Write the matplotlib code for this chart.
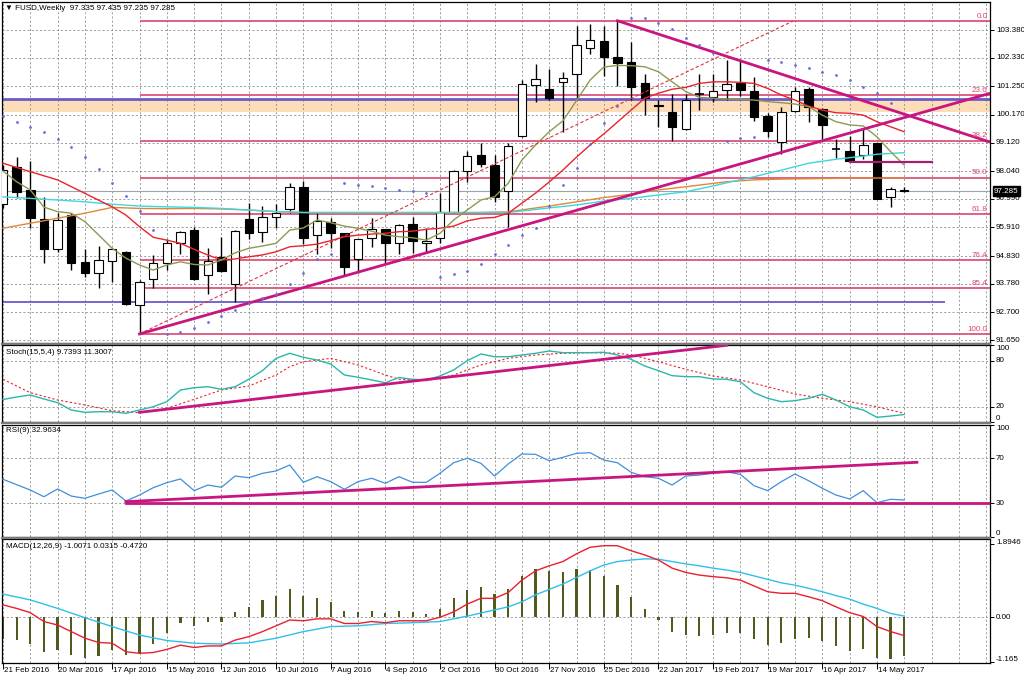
import matplotlib
matplotlib.use("Agg")
import matplotlib.pyplot as plt
import matplotlib.transforms as mtransforms
from matplotlib.patches import Rectangle
from matplotlib.lines import Line2D

plt.rcParams["font.family"] = ["Liberation Sans", "DejaVu Sans"]
FS = 5.8

# ---------------- DATA (weekly bars, index 0 = 21 Feb 2016) ----------------
opens = [96.80, 98.21, 97.33, 96.22, 95.08, 96.38, 94.59, 94.17, 94.65, 94.99,
         92.98, 93.95, 94.55, 95.31, 95.81, 94.11, 94.80, 93.77, 96.22, 95.75,
         96.32, 96.60, 97.43, 95.62, 96.10, 95.69, 94.70, 95.50, 95.84, 95.33,
         96.04, 95.31, 95.50, 96.48, 98.06, 98.65, 98.27, 97.30, 99.37, 101.30,
         101.14, 101.40, 101.72, 102.69, 102.96, 102.37, 102.18, 101.36, 100.55, 100.27,
         99.62, 100.93, 100.83, 101.11, 101.36, 101.08, 100.13, 99.13, 100.32, 101.14,
         100.38, 98.88, 98.81, 98.65, 99.09, 97.05, 97.335]
highs = [98.27, 98.57, 98.42, 97.07, 96.46, 96.47, 95.09, 95.21, 95.12, 95.03,
         93.92, 94.87, 95.46, 95.78, 95.91, 95.12, 95.54, 95.82, 96.85, 96.72,
         96.80, 97.58, 97.67, 96.45, 96.26, 95.71, 95.49, 96.26, 95.87, 96.04,
         96.29, 95.88, 97.23, 98.10, 98.81, 99.09, 98.65, 99.09, 101.49, 102.09,
         101.89, 101.80, 103.53, 103.61, 103.53, 103.73, 102.94, 101.72, 100.73, 100.95,
         100.95, 101.72, 101.72, 102.25, 102.25, 101.61, 100.25, 100.48, 101.21, 101.24,
         100.42, 99.25, 99.37, 99.62, 99.12, 97.45, 97.435]
lows = [96.65, 97.03, 95.90, 94.58, 94.99, 94.30, 94.05, 93.61, 93.86, 92.99,
        91.87, 93.63, 94.30, 94.90, 93.92, 93.38, 94.24, 93.10, 95.46, 95.37,
        95.88, 96.45, 95.28, 94.90, 95.12, 94.11, 94.17, 95.16, 94.55, 94.90,
        94.93, 94.99, 95.31, 96.45, 97.64, 98.21, 96.88, 95.91, 99.35, 100.67,
        100.73, 99.53, 100.76, 102.47, 101.64, 101.26, 100.73, 100.16, 99.72, 99.18,
        99.60, 100.35, 100.67, 100.73, 100.88, 99.95, 99.32, 98.69, 100.29, 99.91,
        99.25, 98.53, 98.40, 98.49, 96.97, 96.67, 97.235]
closes = [98.08, 97.26, 96.28, 95.11, 96.19, 94.58, 94.20, 94.68, 95.08, 93.01,
          93.86, 94.55, 95.33, 95.75, 93.95, 94.65, 94.26, 95.79, 95.71, 96.29,
          96.45, 97.43, 95.50, 96.17, 95.69, 94.42, 95.46, 95.84, 95.33, 95.99,
          95.41, 95.41, 96.51, 98.06, 98.61, 98.31, 97.07, 99.00, 101.33, 101.53,
          100.82, 101.58, 102.81, 103.00, 102.35, 102.14, 101.21, 100.80, 100.50, 99.72,
          100.73, 100.95, 101.08, 101.34, 101.11, 100.10, 99.57, 100.29, 101.08, 100.48,
          99.79, 98.86, 98.42, 99.03, 96.99, 97.35, 97.285]

ma_fast = [98.05, 97.64, 97.33, 96.68, 96.51, 96.45, 96.13, 95.63, 95.12, 94.75,
           94.49, 94.30, 94.49, 94.61, 94.51, 94.49, 94.68, 94.95, 95.12, 95.21,
           95.31, 95.81, 95.89, 96.19, 96.09, 95.96, 95.88, 95.77, 95.62, 95.56,
           95.52, 95.43, 95.69, 96.19, 96.57, 96.95, 97.07, 97.58, 98.46, 99.03,
           99.53, 99.94, 100.71, 101.49, 101.98, 102.04, 102.03, 101.99, 101.80, 101.42,
           101.05, 100.83, 100.80, 100.77, 100.76, 100.73, 100.67, 100.63, 100.58, 100.48,
           100.16, 99.91, 99.79, 99.75, 99.34, 98.78, 98.27]
ma_mid_idx = [0, 2, 4, 6, 8] + list(range(9, 67))
ma_mid = [98.34, 98.02, 97.71, 97.20, 96.69, 96.38, 95.94, 95.54, 95.43, 95.31,
          95.08, 94.87, 94.68, 94.72, 94.80, 94.87, 94.99, 95.18, 95.22, 95.28,
          95.41, 95.56, 95.62, 95.66, 95.69, 95.75, 95.77, 95.84, 95.88, 95.96,
          96.16, 96.26, 96.29, 96.45, 96.83, 97.21, 97.63, 98.08, 98.57, 99.03,
          99.45, 99.90, 100.35, 100.80, 100.99, 101.14, 101.21, 101.36, 101.42, 101.42,
          101.40, 101.36, 101.17, 100.92, 100.73, 100.50, 100.35, 100.25, 100.23, 100.16,
          99.91, 99.72, 99.53]
ma_slow_idx = [0, 2, 4, 6, 8, 10, 12, 14, 16, 18, 20, 22, 26, 30, 34, 37, 38, 40, 42, 44,
               46, 48, 50, 52, 53, 55, 57, 59, 61, 63, 64, 66]
ma_slow = [97.07, 97.01, 96.95, 96.88, 96.79, 96.72, 96.69, 96.67, 96.63, 96.57,
           96.51, 96.48, 96.48, 96.48, 96.48, 96.48, 96.53, 96.65, 96.76, 96.91,
           97.01, 97.14, 97.26, 97.48, 97.60, 97.83, 98.08, 98.34, 98.49, 98.61,
           98.68, 98.74]
ma_long_idx = [0, 2, 4, 6, 8, 10, 12, 14, 16, 18, 20, 22, 26, 30, 34, 37, 40, 44, 46, 48,
               50, 53, 55, 57, 60, 63, 66]
ma_long = [95.88, 96.07, 96.26, 96.45, 96.67, 96.63, 96.62, 96.63, 96.61, 96.57,
           96.51, 96.47, 96.46, 96.46, 96.46, 96.50, 96.72, 97.04, 97.17, 97.33,
           97.45, 97.64, 97.71, 97.74, 97.76, 97.78, 97.78]

sar = [100.13, 99.91, 99.72, 99.53, 99.24, 98.94, 98.59, 98.11, 97.60, 97.11,
       96.54, 95.81, 91.88, 91.97, 92.09, 92.34, 92.56, 92.79, 93.04, 93.24,
       93.39, 93.77, 94.20, 94.70, 94.90, 97.60, 97.52, 97.48, 97.39, 97.33,
       97.29, 97.20, 94.05, 94.14, 94.27, 94.53, 94.90, 95.25, 95.62, 95.88,
       96.72, 97.52, 98.15, 99.06, 99.85, 100.50, 103.82, 103.82, 103.66, 103.42,
       103.09, 102.81, 102.50, 99.18, 99.28, 99.34, 102.25, 102.18, 102.06, 101.93,
       101.80, 101.68, 101.49, 101.23, 100.99, 100.61]

fib_labels = ["0.0", "23.6", "38.2", "50.0", "61.8", "76.4", "85.4", "100.0"]
fib_prices = [103.73, 100.93, 99.20, 97.80, 96.41, 94.68, 93.61, 91.88]
fib_start = 10

price_ticks = [103.380, 102.330, 101.250, 100.170, 99.120, 98.040,
               96.990, 95.910, 94.830, 93.780, 92.700, 91.650]
last_price = 97.285

zone_low, zone_high = 100.28, 100.77
hline_blue_low = 93.10
hline_short = 98.40

# trendlines as (bar index, value) pairs
trend_up = ([10, 72.28], [91.88, 100.985])
trend_down = ([45, 72.28], [103.73, 99.14])
trend_dashed = ([10, 57.85], [91.88, 103.72])
trend_short = ([62, 68], [hline_short, hline_short])
stoch_trend = ([10, 53], [12.6, 100.0])
rsi_trend = ([9, 66.93], [31.4, 66.4])
rsi_level = ([9, 72.28], [30, 30])

stoch_main = [29.3, 32.6, 35.2, 30.0, 25.2, 15.6, 12.6, 13.4, 13.4, 11.3,
              15.6, 19.9, 26.5, 41.7, 44.7, 46.0, 42.6, 46.0, 55.7, 66.9,
              83.0, 89.6, 84.4, 80.8, 75.6, 61.3, 58.3, 54.8, 51.2, 58.0,
              55.7, 54.8, 60.0, 67.8, 80.0, 88.7, 85.1, 85.1, 87.4, 89.6,
              92.6, 90.4, 90.4, 90.4, 90.9, 87.4, 81.7, 73.0, 66.9, 60.4,
              59.1, 59.1, 56.1, 55.7, 52.5, 38.2, 30.9, 26.5, 27.8, 30.9,
              36.1, 28.7, 19.9, 15.6, 6.1, 7.8, 9.74]
stoch_sig_idx = [0, 2, 4, 6, 8, 10, 12, 14, 16, 18, 20, 21, 22, 24, 26, 28, 29, 31, 33, 35,
                 37, 39, 41, 43, 45, 46, 48, 50, 52, 54, 56, 58, 60, 62, 64, 66]
stoch_sig = [55.7, 38.2, 28.7, 22.2, 14.7, 12.1, 17.9, 29.6, 41.7, 46.9,
             61.3, 72.1, 78.6, 83.0, 74.3, 61.3, 55.7, 53.8, 61.3, 74.3,
             83.0, 87.4, 89.6, 90.4, 89.6, 87.4, 78.6, 68.7, 60.0, 54.8,
             46.0, 36.5, 30.9, 26.5, 19.9, 11.3]

rsi = [51.3, 46.5, 41.8, 35.8, 42.7, 36.4, 34.4, 38.2, 41.8, 32.0,
       37.3, 43.8, 48.3, 51.6, 41.2, 46.2, 44.2, 54.2, 52.7, 56.6,
       58.7, 64.0, 48.6, 53.6, 49.2, 42.4, 49.2, 52.2, 47.7, 53.6,
       48.6, 48.6, 56.6, 66.0, 70.0, 65.5, 54.2, 64.9, 73.8, 73.5,
       67.8, 70.8, 74.4, 74.9, 68.4, 66.0, 57.5, 53.6, 52.2, 46.2,
       54.2, 55.1, 56.6, 58.0, 55.7, 45.6, 41.2, 49.2, 56.0, 50.0,
       43.3, 37.3, 33.8, 41.2, 30.5, 33.5, 32.96]

macd_main = [0.32, 0.23, 0.12, -0.11, -0.20, -0.37, -0.54, -0.65, -0.67, -0.89,
             -0.93, -0.91, -0.83, -0.72, -0.78, -0.74, -0.74, -0.59, -0.50, -0.37,
             -0.22, -0.07, -0.09, -0.04, -0.04, -0.16, -0.16, -0.11, -0.14, -0.09,
             -0.09, -0.09, 0.00, 0.14, 0.34, 0.49, 0.49, 0.64, 0.96, 1.20,
             1.33, 1.44, 1.64, 1.81, 1.85, 1.85, 1.72, 1.61, 1.48, 1.27,
             1.16, 1.09, 1.05, 1.02, 0.96, 0.81, 0.66, 0.62, 0.62, 0.53,
             0.43, 0.27, 0.12, 0.02, -0.24, -0.37, -0.472]
macd_sig_idx = list(range(0, 37, 2)) + list(range(37, 67))
macd_sig = [0.60, 0.45, 0.23, -0.01, -0.24, -0.46, -0.60, -0.67, -0.69, -0.66,
            -0.54, -0.37, -0.24, -0.22, -0.16, -0.14, -0.11, 0.03, 0.19,
            0.27, 0.40, 0.58, 0.72, 0.86, 1.03, 1.20, 1.35, 1.44, 1.48,
            1.51, 1.50, 1.44, 1.38, 1.33, 1.27, 1.22, 1.16, 1.07, 0.98,
            0.89, 0.83, 0.75, 0.66, 0.56, 0.47, 0.34, 0.23, 0.10, 0.0315]
macd_hist = [-0.57, -0.59, -0.69, -0.89, -0.84, -0.97, -1.06, -1.00, -0.84, -0.97,
             -0.93, -0.69, -0.41, -0.14, -0.22, -0.11, -0.13, 0.14, 0.27, 0.45,
             0.55, 0.72, 0.55, 0.51, 0.40, 0.17, 0.14, 0.17, 0.12, 0.16,
             0.13, 0.08, 0.21, 0.49, 0.71, 0.78, 0.59, 0.73, 1.07, 1.24,
             1.20, 1.16, 1.25, 1.22, 1.07, 0.83, 0.53, 0.21, -0.07, -0.39,
             -0.46, -0.48, -0.46, -0.41, -0.41, -0.57, -0.72, -0.67, -0.57, -0.54,
             -0.60, -0.74, -0.86, -0.83, -1.06, -1.09, -1.0071]

date_labels = ["21 Feb 2016", "20 Mar 2016", "17 Apr 2016", "15 May 2016", "12 Jun 2016",
               "10 Jul 2016", "7 Aug 2016", "4 Sep 2016", "2 Oct 2016", "30 Oct 2016",
               "27 Nov 2016", "25 Dec 2016", "22 Jan 2017", "19 Feb 2017", "19 Mar 2017",
               "16 Apr 2017", "14 May 2017"]
date_idx = list(range(0, 65, 4))

# ---------------- STYLE ----------------
GRID = "#8e8e8e"
FIB = "#dc4670"
TREND = "#c8157f"
W, H = 1024, 683
XMIN, XMAX = -0.07, 72.28

fig = plt.figure(figsize=(W / 100, H / 100), dpi=100)


def panel(top, bottom):
    ax = fig.add_axes([2 / W, 1 - bottom / H, 988 / W, (bottom - top) / H])
    ax.set_xlim(XMIN, XMAX)
    ax.set_xticks([])
    ax.yaxis.tick_right()
    ax.tick_params(axis="y", length=3, width=0.7, labelright=False,
                   left=False, right=True)
    for s in ax.spines.values():
        s.set_color("black")
        s.set_linewidth(0.9)
    for i in range(0, 73, 2):
        ax.axvline(i, color=GRID, lw=0.6, ls=(0, (2.5, 2.5)), zorder=1)
    return ax


def right_labels(ax, vals, texts, vas):
    tr = ax.get_yaxis_transform()
    for v, t, va in zip(vals, texts, vas):
        ax.text(1.006, v, t, transform=tr, ha="left", va=va,
                fontsize=FS, clip_on=False)


ax = panel(2, 343.5)
ax_st = panel(345, 422)
ax_rsi = panel(424.5, 537)
ax_macd = panel(539, 663)

# ---------------- MAIN PRICE PANEL ----------------
ax.set_ylim(91.52, 104.44)
ax.set_yticks(price_ticks)
for p in price_ticks:
    ax.axhline(p, color=GRID, lw=0.6, ls=(0, (2.5, 2.5)), zorder=1)
right_labels(ax, price_ticks, [f"{p:.3f}" for p in price_ticks],
             ["center"] * len(price_ticks))

ax.axhspan(zone_low, zone_high, color="#fddcb8", lw=0, zorder=0)
ax.axhline(zone_high, color="#6a5acd", lw=2, zorder=2)
ax.hlines(hline_blue_low, XMIN, 69, color="#6a5acd", lw=1.3, zorder=2)
ax.axhline(last_price, color="#9aa4ae", lw=0.8, zorder=2)

for p, lab in zip(fib_prices, fib_labels):
    ax.hlines(p, fib_start, XMAX, color=FIB, lw=1.2, zorder=2)
    ax.text(72.1, p + 0.04, lab, ha="right", va="bottom", color=FIB,
            fontsize=FS, zorder=6)

for i in range(len(opens)):
    o, h, l, c = opens[i], highs[i], lows[i], closes[i]
    ax.vlines(i, l, h, color="black", lw=1, zorder=3)
    if abs(c - o) < 0.04:
        ax.hlines(c, i - 0.32, i + 0.32, color="black", lw=1.2, zorder=3)
    else:
        ax.add_patch(Rectangle((i - 0.31, min(o, c)), 0.62, abs(c - o),
                               facecolor="black" if c < o else "white",
                               edgecolor="black", lw=0.8, zorder=3))

ax.plot(ma_long_idx, ma_long, color="#e0873a", lw=1, zorder=4)
ax.plot(ma_slow_idx, ma_slow, color="#3fd6dc", lw=1, zorder=4)
ax.plot(ma_mid_idx, ma_mid, color="#e8242c", lw=1, zorder=4)
ax.plot(range(len(ma_fast)), ma_fast, color="#8c9a52", lw=1, zorder=4)

ax.plot(*trend_dashed, color="#e0303a", lw=0.8, ls=(0, (3, 2)), zorder=5)
ax.plot(*trend_up, color=TREND, lw=2, zorder=5)
ax.plot(*trend_down, color=TREND, lw=2, zorder=5)
ax.plot(*trend_short, color="#a41f6e", lw=1.6, zorder=5)

ax.scatter(range(len(sar)), sar, s=4, color="#6b6bdc", lw=0, zorder=6)

tr = ax.get_yaxis_transform()
ax.text(1.004, last_price, f"{last_price:.3f}", transform=tr, ha="left",
        va="center", fontsize=FS, color="white", clip_on=False, zorder=10,
        bbox=dict(boxstyle="square,pad=0.18", fc="black", ec="black"))

fig.text(5 / W, 1 - 8 / H, "\u25bc FUSD,Weekly  97.335 97.435 97.235 97.285",
         fontsize=FS, va="center", ha="left")

# ---------------- STOCHASTIC ----------------
ax_st.set_ylim(0, 100.4)
ax_st.set_yticks([100, 80, 20, 0])
for v in (20, 80):
    ax_st.axhline(v, color=GRID, lw=0.6, ls=(0, (2.5, 2.5)), zorder=1)
right_labels(ax_st, [100, 80, 20, 0], ["100", "80", "20", "0"],
             ["top", "center", "center", "bottom"])
ax_st.plot(stoch_sig_idx, stoch_sig, color="#e8242c", lw=0.8,
           ls=(0, (2, 2)), zorder=3)
ax_st.plot(range(len(stoch_main)), stoch_main, color="#2ab7a9", lw=1, zorder=3)
ax_st.plot(*stoch_trend, color=TREND, lw=2, zorder=4, clip_on=True)
fig.text(6 / W, 1 - 352 / H, "Stoch(15,5,4) 9.7393 11.3007", fontsize=FS,
         va="center", ha="left")

# ---------------- RSI ----------------
ax_rsi.set_ylim(0, 100)
ax_rsi.set_yticks([100, 70, 30, 0])
for v in (30, 70):
    ax_rsi.axhline(v, color=GRID, lw=0.6, ls=(0, (2.5, 2.5)), zorder=1)
right_labels(ax_rsi, [100, 70, 30, 0], ["100", "70", "30", "0"],
             ["top", "center", "center", "bottom"])
ax_rsi.plot(range(len(rsi)), rsi, color="#3f8fdc", lw=0.9, zorder=3)
ax_rsi.plot(*rsi_trend, color=TREND, lw=2, zorder=4)
ax_rsi.plot(*rsi_level, color=TREND, lw=2, zorder=4)
fig.text(6 / W, 1 - 431 / H, "RSI(9) 32.9634", fontsize=FS,
         va="center", ha="left")

# ---------------- MACD ----------------
ax_macd.set_ylim(-1.181, 2.023)
ax_macd.set_yticks([1.8946, 0.0, -1.165])
ax_macd.axhline(0, color=GRID, lw=0.6, ls=(0, (2.5, 2.5)), zorder=1)
right_labels(ax_macd, [2.023, 0.0, -1.181], ["1.8946", "0.00", "-1.165"],
             ["top", "center", "bottom"])
ax_macd.bar(range(len(macd_hist)), macd_hist, width=0.16, color="#4f5b1f",
            zorder=2)
ax_macd.plot(macd_sig_idx, macd_sig, color="#2ec0ea", lw=1, zorder=3)
ax_macd.plot(range(len(macd_main)), macd_main, color="#ea1f2f", lw=1, zorder=3)
fig.text(6 / W, 1 - 546 / H, "MACD(12,26,9) -1.0071 0.0315 -0.4720",
         fontsize=FS, va="center", ha="left")

ax_macd.set_xticks(date_idx)
ax_macd.tick_params(axis="x", length=4, width=0.7, direction="out",
                    labelbottom=False)
xtr = mtransforms.blended_transform_factory(ax_macd.transData, ax_macd.transAxes)
for i, lab in zip(date_idx, date_labels):
    ax_macd.text(i + 0.05, -0.035, lab, transform=xtr, ha="left", va="top",
                 fontsize=FS, clip_on=False)

# panel separators
for y in (344.2, 423.3, 538.0):
    fig.add_artist(Line2D([2 / W, 990 / W], [1 - y / H, 1 - y / H],
                          transform=fig.transFigure, color="#7a7a7a", lw=1.6))

fig.savefig("out.png", dpi=100, facecolor="white")
